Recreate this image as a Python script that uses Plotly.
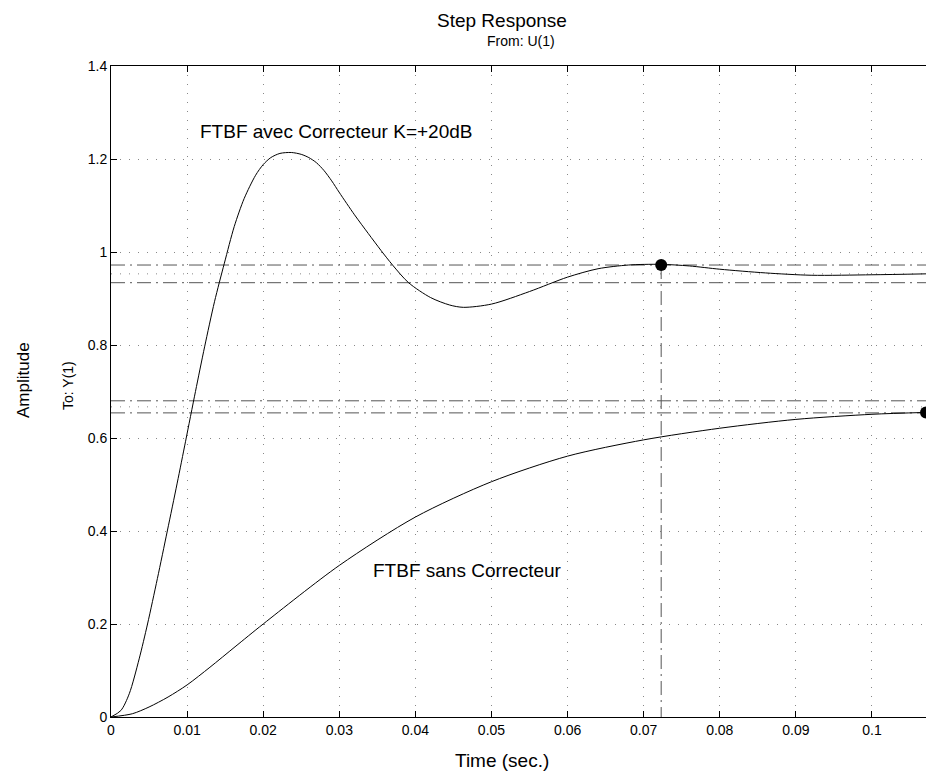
import plotly.graph_objects as go

# ---- data ----
t_corr = [0, 0.0013, 0.0024, 0.0037, 0.0048, 0.0061, 0.0074, 0.0087, 0.0098, 0.0111,
          0.0123, 0.0136, 0.0149, 0.0162, 0.0175, 0.0190, 0.0200, 0.0210, 0.0222, 0.0237,
          0.0250, 0.0260, 0.0270, 0.0280, 0.0290, 0.0300, 0.0320, 0.0338, 0.0355, 0.0370,
          0.0391, 0.0420, 0.0445, 0.0463, 0.0500, 0.0550, 0.0600, 0.0640, 0.0680, 0.0722,
          0.0760, 0.0800, 0.0860, 0.0920, 0.1000, 0.1071]
y_corr = [0, 0.014, 0.050, 0.125, 0.200, 0.298, 0.400, 0.503, 0.593, 0.700,
          0.796, 0.893, 0.976, 1.055, 1.115, 1.165, 1.188, 1.203, 1.212, 1.214,
          1.210, 1.203, 1.192, 1.175, 1.153, 1.128, 1.080, 1.040, 1.003, 0.972,
          0.934, 0.902, 0.886, 0.881, 0.888, 0.915, 0.946, 0.964, 0.972, 0.9735,
          0.970, 0.963, 0.955, 0.950, 0.951, 0.953]

t_sans = [0, 0.0028, 0.005, 0.0075, 0.01, 0.013, 0.0163, 0.02, 0.03, 0.04, 0.05, 0.06,
          0.07, 0.08, 0.09, 0.1, 0.1071]
y_sans = [0, 0.007, 0.0215, 0.043, 0.069, 0.107, 0.151, 0.2, 0.326, 0.43, 0.506, 0.561,
          0.596, 0.621, 0.640, 0.651, 0.655]

final_corr = 0.953
band_corr = [0.972, 0.934]
settle_corr = (0.0723, 0.972)

final_sans = 0.667
band_sans = [0.680, 0.654]
settle_sans = (0.1071, 0.655)

x_range = [0, 0.1071]
y_range = [0, 1.4]
x_ticks = [0, 0.01, 0.02, 0.03, 0.04, 0.05, 0.06, 0.07, 0.08, 0.09, 0.1]
x_ticktext = ["0", "0.01", "0.02", "0.03", "0.04", "0.05", "0.06", "0.07", "0.08", "0.09", "0.1"]
y_ticks = [0, 0.2, 0.4, 0.6, 0.8, 1.0, 1.2, 1.4]
y_ticktext = ["0", "0.2", "0.4", "0.6", "0.8", "1", "1.2", "1.4"]

FONT = "Liberation Sans, Arial, Helvetica, sans-serif"
DASHDOT = "14px,5px,2px,5px"
GRID_DOT = "1px,8px"

fig = go.Figure()

# horizontal reference lines (settling bands and final values)
for yv in band_corr + band_sans:
    fig.add_trace(go.Scatter(x=x_range, y=[yv, yv], mode="lines",
                             line=dict(color="#555555", width=1, dash=DASHDOT),
                             hoverinfo="skip", showlegend=False))
for yv in [final_corr, final_sans]:
    fig.add_trace(go.Scatter(x=x_range, y=[yv, yv], mode="lines",
                             line=dict(color="#888888", width=1, dash=GRID_DOT),
                             hoverinfo="skip", showlegend=False))

# vertical settling-time line
fig.add_trace(go.Scatter(x=[settle_corr[0], settle_corr[0]], y=[settle_corr[1], 0], mode="lines",
                         line=dict(color="#555555", width=1, dash=DASHDOT),
                         hoverinfo="skip", showlegend=False))

# responses
fig.add_trace(go.Scatter(x=t_corr, y=y_corr, mode="lines",
                         line=dict(color="black", width=1, shape="spline", smoothing=0.8),
                         showlegend=False))
fig.add_trace(go.Scatter(x=t_sans, y=y_sans, mode="lines",
                         line=dict(color="black", width=1, shape="spline", smoothing=0.8),
                         showlegend=False))

# markers
fig.add_trace(go.Scatter(x=[settle_corr[0], settle_sans[0]], y=[settle_corr[1], settle_sans[1]],
                         mode="markers", marker=dict(color="black", size=12),
                         showlegend=False))

fig.update_layout(
    width=926, height=776,
    margin=dict(l=111, r=0, t=66, b=59),
    paper_bgcolor="white", plot_bgcolor="white",
    font=dict(family=FONT, color="black", size=14),
    showlegend=False,
    annotations=[
        dict(text="Step Response", x=(501.5 - 111) / 815, y=(717 - 21) / 651, xref="paper", yref="paper",
             showarrow=False, font=dict(size=19), xanchor="center", yanchor="middle"),
        dict(text="From: U(1)", x=(521 - 111) / 815, y=(717 - 41) / 651, xref="paper", yref="paper",
             showarrow=False, font=dict(size=14), xanchor="center", yanchor="middle"),
        dict(text="Amplitude", x=(23 - 111) / 815, y=(717 - 380) / 651, xref="paper", yref="paper",
             showarrow=False, font=dict(size=17), textangle=-90, xanchor="center", yanchor="middle"),
        dict(text="To: Y(1)", x=(68 - 111) / 815, y=(717 - 386) / 651, xref="paper", yref="paper",
             showarrow=False, font=dict(size=14), textangle=-90, xanchor="center", yanchor="middle"),
        dict(text="Time (sec.)", x=(502 - 111) / 815, y=(717 - 760) / 651, xref="paper", yref="paper",
             showarrow=False, font=dict(size=19), xanchor="center", yanchor="middle"),
        dict(text="FTBF avec Correcteur K=+20dB", x=0.01146, y=1.26, xref="x", yref="y",
             showarrow=False, font=dict(size=19), xanchor="left", yanchor="middle"),
        dict(text="FTBF sans Correcteur", x=0.0342, y=0.314, xref="x", yref="y",
             showarrow=False, font=dict(size=19), xanchor="left", yanchor="middle"),
    ],
)

fig.update_xaxes(range=x_range, tickvals=x_ticks, ticktext=x_ticktext,
                 showline=True, linecolor="black", linewidth=1, mirror="ticks",
                 ticks="inside", ticklen=6, tickcolor="black", tickfont=dict(size=14),
                 showgrid=True, gridcolor="#888888", gridwidth=1, griddash=GRID_DOT,
                 zeroline=False)
fig.update_yaxes(range=y_range, tickvals=y_ticks, ticktext=y_ticktext,
                 showline=True, linecolor="black", linewidth=1, mirror=False,
                 ticks="inside", ticklen=6, tickcolor="black", tickfont=dict(size=14),
                 showgrid=True, gridcolor="#888888", gridwidth=1, griddash=GRID_DOT,
                 zeroline=False)

fig.write_html(
    "out.html",
    config={"displayModeBar": False},
    post_script="document.body.style.margin='0';"
                "document.body.style.overflow='hidden';"
                "document.documentElement.style.overflow='hidden';",
)
